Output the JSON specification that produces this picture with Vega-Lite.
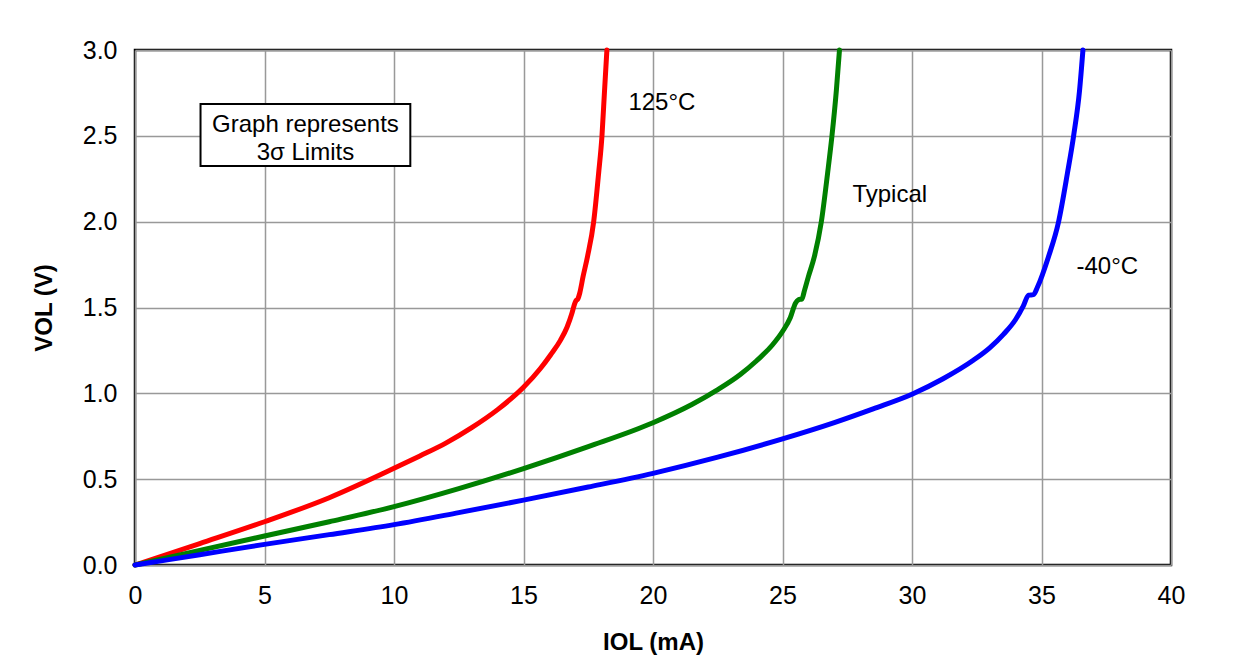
{
  "$schema": "https://vega.github.io/schema/vega-lite/v6.json",
  "autosize": "none",
  "width": 1036,
  "height": 515,
  "padding": {"left": 135, "top": 50, "right": 78, "bottom": 107},
  "background": "white",
  "config": {
    "font": "Liberation Sans",
    "view": {"stroke": "black", "strokeWidth": 2.5},
    "axis": {
      "grid": true, "gridColor": "#999999", "gridWidth": 1.5,
      "domain": false, "ticks": false, "labelFlush": false,
      "labelFont": "Liberation Sans", "labelFontSize": 25, "labelColor": "black",
      "titleFont": "Liberation Sans", "titleFontSize": 24, "titleFontWeight": "bold", "titleColor": "black"
    }
  },
  "datasets": {
    "curves": [
      {"series": "125°C", "I": 0, "V": 0},
      {"series": "125°C", "I": 2.5, "V": 0.125},
      {"series": "125°C", "I": 5, "V": 0.252},
      {"series": "125°C", "I": 7.5, "V": 0.392},
      {"series": "125°C", "I": 10, "V": 0.563},
      {"series": "125°C", "I": 11, "V": 0.635},
      {"series": "125°C", "I": 12, "V": 0.71},
      {"series": "125°C", "I": 13, "V": 0.8},
      {"series": "125°C", "I": 14, "V": 0.905},
      {"series": "125°C", "I": 15, "V": 1.035},
      {"series": "125°C", "I": 15.66, "V": 1.146},
      {"series": "125°C", "I": 16.05, "V": 1.225},
      {"series": "125°C", "I": 16.43, "V": 1.31},
      {"series": "125°C", "I": 16.68, "V": 1.385},
      {"series": "125°C", "I": 16.87, "V": 1.466},
      {"series": "125°C", "I": 16.97, "V": 1.52},
      {"series": "125°C", "I": 17.02, "V": 1.538},
      {"series": "125°C", "I": 17.1, "V": 1.55},
      {"series": "125°C", "I": 17.17, "V": 1.583},
      {"series": "125°C", "I": 17.3, "V": 1.68},
      {"series": "125°C", "I": 17.47, "V": 1.796},
      {"series": "125°C", "I": 17.71, "V": 2.0},
      {"series": "125°C", "I": 17.9, "V": 2.281},
      {"series": "125°C", "I": 18.03, "V": 2.5},
      {"series": "125°C", "I": 18.13, "V": 2.766},
      {"series": "125°C", "I": 18.22, "V": 3.0},
      {"series": "Typical", "I": 0, "V": 0},
      {"series": "Typical", "I": 2.5, "V": 0.085},
      {"series": "Typical", "I": 5, "V": 0.169},
      {"series": "Typical", "I": 7.5, "V": 0.252},
      {"series": "Typical", "I": 10, "V": 0.34},
      {"series": "Typical", "I": 12.5, "V": 0.445},
      {"series": "Typical", "I": 15, "V": 0.562},
      {"series": "Typical", "I": 17.5, "V": 0.69},
      {"series": "Typical", "I": 20, "V": 0.829},
      {"series": "Typical", "I": 21.5, "V": 0.935},
      {"series": "Typical", "I": 22.47, "V": 1.019},
      {"series": "Typical", "I": 23.37, "V": 1.11},
      {"series": "Typical", "I": 24.0, "V": 1.19},
      {"series": "Typical", "I": 24.6, "V": 1.28},
      {"series": "Typical", "I": 25, "V": 1.36},
      {"series": "Typical", "I": 25.3, "V": 1.44},
      {"series": "Typical", "I": 25.5, "V": 1.525},
      {"series": "Typical", "I": 25.62, "V": 1.545},
      {"series": "Typical", "I": 25.75, "V": 1.55},
      {"series": "Typical", "I": 25.85, "V": 1.6},
      {"series": "Typical", "I": 26.0, "V": 1.68},
      {"series": "Typical", "I": 26.23, "V": 1.796},
      {"series": "Typical", "I": 26.5, "V": 2.0},
      {"series": "Typical", "I": 26.74, "V": 2.281},
      {"series": "Typical", "I": 26.91, "V": 2.5},
      {"series": "Typical", "I": 27.08, "V": 2.766},
      {"series": "Typical", "I": 27.2, "V": 3.0},
      {"series": "-40°C", "I": 0, "V": 0},
      {"series": "-40°C", "I": 2.5, "V": 0.06},
      {"series": "-40°C", "I": 5, "V": 0.12},
      {"series": "-40°C", "I": 7.5, "V": 0.177},
      {"series": "-40°C", "I": 10, "V": 0.235},
      {"series": "-40°C", "I": 12.5, "V": 0.305},
      {"series": "-40°C", "I": 15, "V": 0.378},
      {"series": "-40°C", "I": 17.5, "V": 0.454},
      {"series": "-40°C", "I": 20, "V": 0.534},
      {"series": "-40°C", "I": 22.5, "V": 0.628},
      {"series": "-40°C", "I": 25, "V": 0.735},
      {"series": "-40°C", "I": 27, "V": 0.83},
      {"series": "-40°C", "I": 28.5, "V": 0.91},
      {"series": "-40°C", "I": 30, "V": 0.995},
      {"series": "-40°C", "I": 31.2, "V": 1.085},
      {"series": "-40°C", "I": 32.38, "V": 1.194},
      {"series": "-40°C", "I": 33.0, "V": 1.265},
      {"series": "-40°C", "I": 33.54, "V": 1.345},
      {"series": "-40°C", "I": 34.0, "V": 1.43},
      {"series": "-40°C", "I": 34.3, "V": 1.51},
      {"series": "-40°C", "I": 34.5, "V": 1.572},
      {"series": "-40°C", "I": 34.69, "V": 1.575},
      {"series": "-40°C", "I": 34.85, "V": 1.621},
      {"series": "-40°C", "I": 35.27, "V": 1.796},
      {"series": "-40°C", "I": 35.66, "V": 2.0},
      {"series": "-40°C", "I": 36.0, "V": 2.281},
      {"series": "-40°C", "I": 36.24, "V": 2.5},
      {"series": "-40°C", "I": 36.47, "V": 2.766},
      {"series": "-40°C", "I": 36.6, "V": 3.0}
    ],
    "labels": [
      {"label": "125°C", "I": 19.05, "V": 2.69},
      {"label": "Typical", "I": 27.7, "V": 2.155},
      {"label": "-40°C", "I": 36.35, "V": 1.736}
    ],
    "box": [
      {"x1": 2.53, "x2": 10.63, "y1": 2.324, "y2": 2.685}
    ],
    "boxText": [
      {"text": "Graph represents", "I": 6.58, "V": 2.563},
      {"text": "3σ Limits", "I": 6.58, "V": 2.4}
    ]
  },
  "layer": [
    {
      "data": {"name": "curves"},
      "mark": {"type": "line", "strokeWidth": 5, "strokeJoin": "round", "strokeCap": "round", "interpolate": "monotone"},
      "encoding": {
        "x": {"field": "I", "type": "quantitative", "title": "IOL (mA)",
              "scale": {"domain": [0, 40], "nice": false},
              "axis": {"values": [0, 5, 10, 15, 20, 25, 30, 35, 40], "labelPadding": 18, "titlePadding": 22}},
        "y": {"field": "V", "type": "quantitative", "title": "VOL (V)",
              "scale": {"domain": [0, 3], "nice": false},
              "axis": {"values": [0, 0.5, 1, 1.5, 2, 2.5, 3], "format": ".1f", "labelPadding": 18, "titlePadding": 26}},
        "color": {"field": "series", "type": "nominal",
                  "scale": {"domain": ["125°C", "Typical", "-40°C"], "range": ["#FF0000", "#008000", "#0000FF"]},
                  "legend": null}
      }
    },
    {
      "data": {"name": "labels"},
      "mark": {"type": "text", "align": "left", "baseline": "middle", "fontSize": 24, "font": "Liberation Sans", "color": "black"},
      "encoding": {
        "x": {"field": "I", "type": "quantitative"},
        "y": {"field": "V", "type": "quantitative"},
        "text": {"field": "label"}
      }
    },
    {
      "data": {"name": "box"},
      "mark": {"type": "rect", "fill": "white", "stroke": "black", "strokeWidth": 2},
      "encoding": {
        "x": {"field": "x1", "type": "quantitative"},
        "x2": {"field": "x2"},
        "y": {"field": "y1", "type": "quantitative"},
        "y2": {"field": "y2"}
      }
    },
    {
      "data": {"name": "boxText"},
      "mark": {"type": "text", "align": "center", "baseline": "middle", "fontSize": 24, "font": "Liberation Sans", "color": "black"},
      "encoding": {
        "x": {"field": "I", "type": "quantitative"},
        "y": {"field": "V", "type": "quantitative"},
        "text": {"field": "text"}
      }
    }
  ]
}
